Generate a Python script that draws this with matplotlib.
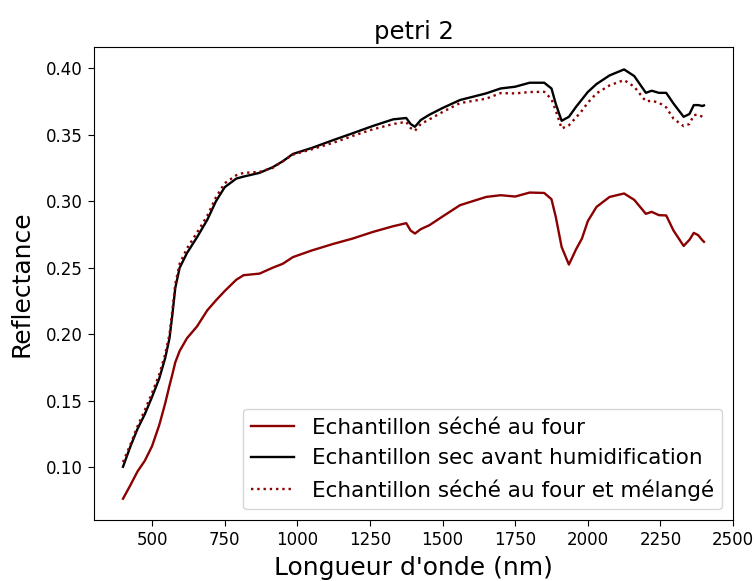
import matplotlib
matplotlib.use("Agg")
import matplotlib.pyplot as plt

wavelength = [400, 425, 450, 475, 500, 525, 545, 560, 570, 580, 595, 620, 655, 690, 720,
              750, 790, 815, 870, 915, 950, 985, 1050, 1125, 1190, 1260, 1330, 1375, 1390,
              1405, 1425, 1455, 1500, 1560, 1650, 1700, 1750, 1800, 1850, 1875, 1890, 1910,
              1935, 1960, 1980, 2000, 2030, 2075, 2125, 2160, 2200, 2220, 2245, 2270, 2295,
              2330, 2350, 2365, 2380, 2395, 2400]

seche_four = [0.0765, 0.0865, 0.097, 0.105, 0.116, 0.132, 0.148, 0.1615, 0.170, 0.179,
              0.1875, 0.197, 0.206, 0.218, 0.2255, 0.2325, 0.241, 0.2444, 0.2456, 0.250,
              0.253, 0.258, 0.263, 0.268, 0.2719, 0.2769, 0.2812, 0.2835, 0.278, 0.2757,
              0.279, 0.282, 0.2885, 0.297, 0.3032, 0.3045, 0.3035, 0.3065, 0.3062, 0.3015,
              0.288, 0.2656, 0.2524, 0.264, 0.272, 0.285, 0.2957, 0.3032, 0.3058, 0.301,
              0.2905, 0.292, 0.2895, 0.2893, 0.278, 0.2664, 0.271, 0.2762, 0.2745, 0.2705,
              0.2695]

sec_avant = [0.1005, 0.1155, 0.129, 0.140, 0.153, 0.167, 0.182, 0.197, 0.215, 0.235,
             0.250, 0.261, 0.273, 0.286, 0.300, 0.3105, 0.317, 0.3185, 0.3213, 0.3255,
             0.330, 0.3355, 0.340, 0.346, 0.351, 0.3565, 0.3615, 0.3625, 0.358, 0.3559,
             0.361, 0.365, 0.370, 0.376, 0.381, 0.3847, 0.386, 0.389, 0.389, 0.3847,
             0.373, 0.3604, 0.3634, 0.371, 0.3765, 0.382, 0.388, 0.3945, 0.399, 0.394,
             0.3814, 0.383, 0.3814, 0.3814, 0.3734, 0.3634, 0.3655, 0.3722, 0.3722, 0.3715,
             0.372]

seche_melange = [0.104, 0.117, 0.131, 0.143, 0.156, 0.170, 0.185, 0.200, 0.218, 0.238,
                 0.253, 0.2645, 0.2765, 0.289, 0.303, 0.3135, 0.3195, 0.3213, 0.322, 0.325,
                 0.330, 0.335, 0.339, 0.344, 0.349, 0.354, 0.358, 0.3596, 0.355, 0.3529,
                 0.358, 0.3615, 0.367, 0.3737, 0.377, 0.3812, 0.381, 0.382, 0.3822, 0.3767,
                 0.368, 0.3546, 0.357, 0.363, 0.368, 0.374, 0.381, 0.387, 0.391, 0.386,
                 0.375, 0.3755, 0.374, 0.3705, 0.362, 0.3564, 0.358, 0.3647, 0.365, 0.3634,
                 0.3634]

labels = ["Echantillon séché au four",
          "Echantillon sec avant humidification",
          "Echantillon séché au four et mélangé"]

fig = plt.figure(figsize=(7.56, 5.81), dpi=100)
ax = fig.add_axes([0.1243, 0.105, 0.8453, 0.814])

ax.plot(wavelength, seche_four, color="#8b0000", lw=1.7, label=labels[0])
ax.plot(wavelength, sec_avant, color="black", lw=1.7, label=labels[1])
ax.plot(wavelength, seche_melange, color="#8b0000", lw=1.7, ls=":", label=labels[2])

ax.set_xlim(300, 2500)
ax.set_ylim(0.0605, 0.4158)
ax.set_xticks([500, 750, 1000, 1250, 1500, 1750, 2000, 2250, 2500])
ax.set_yticks([0.10, 0.15, 0.20, 0.25, 0.30, 0.35, 0.40])
ax.tick_params(labelsize=12, length=4.5)
ax.set_title("petri 2", fontsize=17.5)
ax.set_xlabel("Longueur d'onde (nm)", fontsize=18, labelpad=5)
ax.set_ylabel("Reflectance", fontsize=18, labelpad=9)
ax.legend(loc="lower right", fontsize=15.5)

fig.savefig("out.png", dpi=100)
